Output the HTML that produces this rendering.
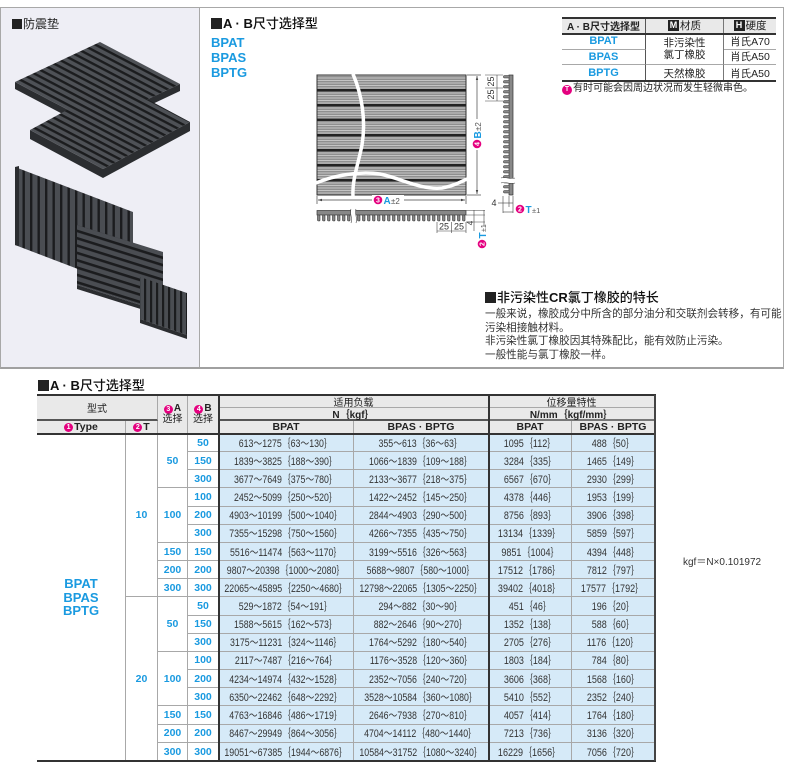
<!DOCTYPE html>
<html><head><meta charset="utf-8">
<style>
*{margin:0;padding:0;box-sizing:border-box}
body{width:790px;height:766px;position:relative;overflow:hidden;background:#fff;font-family:"Liberation Sans","Noto Sans CJK SC",sans-serif;color:#333}
.a{position:absolute;white-space:nowrap}
.sq{display:inline-block;width:11px;height:11px;background:#222;vertical-align:-1px;margin-right:1px}
.bl{color:#1a9ae0;font-weight:bold}
.n{display:inline-block;width:9px;height:9px;border-radius:50%;background:#e4007f;color:#fff;font-size:7px;line-height:9px;text-align:center;font-weight:bold;font-family:"Liberation Sans",sans-serif;vertical-align:0px;margin-right:1px}
.g{display:grid;position:absolute}
.g>div{display:flex;align-items:center;justify-content:center;border-right:1px solid #a8a8a8;border-bottom:1px solid #a8a8a8;white-space:nowrap;text-align:center;overflow:visible}
.h{background:#e9e9e9;font-size:10px;color:#222}
.hb{font-weight:bold;font-size:10.5px}
.w{background:#fff}
.c{background:#d6eaf8}
.d{display:inline-block;transform:scaleX(.8);font-size:11px;color:#333}
.e{display:inline-block;transform:scaleX(.82);font-size:11px;color:#333}
.b{color:#1a9ae0;font-weight:bold;font-size:10.5px;background:#fff}
.b2{color:#1a9ae0;font-weight:bold;font-size:11px;background:#fff}
.line{position:absolute;background:#333}
.mb{display:inline-block;width:11px;height:11px;background:#222;color:#fff;font-size:9px;line-height:11px;text-align:center;font-weight:bold;margin-right:1px;vertical-align:-1px}
</style></head><body>

<!-- top frame -->
<div class="a" style="left:0;top:7px;width:784px;height:362px;border:1px solid #a8a8a8;border-bottom:2px solid #a0a0a0"></div>
<div class="a" style="left:1px;top:8px;width:199px;height:359px;background:#eeeef5;border-right:1px solid #a8a8a8"></div>

<div class="a" style="left:12px;top:17px;font-size:12px;line-height:14px;color:#222"><span class="sq" style="width:10px;height:10px"></span>防震垫</div>

<!-- photo -->
<svg class="a" style="left:0;top:0" width="200" height="368" viewBox="0 0 200 368">
<defs>
<pattern id="r1" width="6" height="6" patternUnits="userSpaceOnUse" patternTransform="rotate(27.7)"><rect width="6" height="6" fill="#4e5156"/><rect width="6" height="2.4" fill="#1b1c1e"/></pattern>
<pattern id="r4" width="7" height="7" patternUnits="userSpaceOnUse" patternTransform="rotate(17.4)"><rect width="7" height="7" fill="#4a4d52"/><rect width="7" height="2.6" fill="#1b1c1e"/></pattern>
<pattern id="rv" width="7.5" height="7.5" patternUnits="userSpaceOnUse"><rect width="7.5" height="7.5" fill="#4a4d52"/><rect width="2.4" height="7.5" fill="#1b1c1e"/></pattern>
<pattern id="rv5" width="6" height="6" patternUnits="userSpaceOnUse"><rect width="6" height="6" fill="#4a4d52"/><rect width="2.2" height="6" fill="#1b1c1e"/></pattern>
</defs>
<polygon points="15,82 95,124 180,84 180,91 95,131 15,89" fill="#2b2d30"/>
<polygon points="15,82 100,42 180,84 95,124" fill="url(#r1)"/>
<polygon points="30,130 103,169 190,122 190,131 103,178 30,139" fill="#2b2d30"/>
<polygon points="30,130 117,83 190,122 103,169" fill="url(#r1)"/>
<polygon points="15,167 133,212 133,290 15,245" fill="url(#rv)"/>
<polygon points="15,167 19,166 19,246 15,245" fill="#2b2d30"/>
<polygon points="77,225 163,252 163,312 77,285" fill="url(#r4)"/>
<polygon points="77,285 163,312 163,316 77,289" fill="#2b2d30"/>
<polygon points="140,277 187,293 187,335 140,319" fill="url(#rv5)"/>
<polygon points="140,319 187,335 187,339 140,323" fill="#2b2d30"/>
</svg>

<!-- heading -->
<div class="a" style="left:211px;top:16px;font-size:13px;line-height:15px;color:#111;font-weight:500"><span class="sq"></span><b>A · B</b>尺寸选择型</div>
<div class="a bl" style="left:211px;top:35px;font-size:13px;line-height:15px">BPAT<br>BPAS<br>BPTG</div>

<!-- drawing -->
<svg class="a" style="left:0;top:0" width="790" height="260" viewBox="0 0 790 260" font-family="Liberation Sans, sans-serif">
<defs>
<pattern id="st" width="6" height="2.5" patternUnits="userSpaceOnUse"><rect width="6" height="2.5" fill="#8f8f8f"/><rect width="6" height="1" fill="#c4c4c4"/></pattern>
<pattern id="tb" x="317" y="215" width="5" height="7" patternUnits="userSpaceOnUse"><rect x="0.5" y="0" width="2.5" height="6" rx="1" fill="#888" stroke="#333" stroke-width=".6"/></pattern>
<pattern id="ts" x="503" y="75" width="7" height="5" patternUnits="userSpaceOnUse"><rect x="0.5" y="0.5" width="6" height="2.5" rx="1" fill="#888" stroke="#333" stroke-width=".6"/></pattern>
</defs>
<rect x="317" y="75" width="149" height="120" fill="url(#st)" stroke="#333" stroke-width="1"/>
<g fill="#222">
<rect x="317" y="89" width="149" height="2.5"/>
<rect x="317" y="104" width="149" height="2.5"/>
<rect x="317" y="118.5" width="149" height="2.5"/>
<rect x="317" y="134" width="149" height="2.5"/>
<rect x="317" y="149" width="149" height="2.5"/>
<rect x="317" y="164" width="149" height="2.5"/>
<rect x="317" y="179" width="149" height="2.5"/>
</g>
<path d="M353,74 C362,95 366,120 362,145 C358,165 352,180 353,196" stroke="#fff" stroke-width="3.5" fill="none"/>
<path d="M316,183 C335,175 360,171 380,174 C400,178 420,190 442,188 C455,186 462,181 467,179" stroke="#fff" stroke-width="3.5" fill="none"/>
<g stroke="#444" stroke-width=".7" fill="none">
<line x1="317" y1="196" x2="317" y2="204"/><line x1="466" y1="196" x2="466" y2="204"/>
<line x1="318" y1="200" x2="465" y2="200"/>
<line x1="467" y1="75" x2="481" y2="75"/><line x1="467" y1="195" x2="481" y2="195"/>
<line x1="477" y1="76" x2="477" y2="194"/>
</g>
<polygon points="318,200 322,198.8 322,201.2" fill="#444"/><polygon points="465,200 461,198.8 461,201.2" fill="#444"/>
<polygon points="477,76 475.8,80 478.2,80" fill="#444"/><polygon points="477,194 475.8,190 478.2,190" fill="#444"/>
<rect x="372" y="195" width="32" height="10" fill="#fff"/>
<circle cx="378" cy="200" r="4.3" fill="#e4007f"/><text x="378" y="202.6" font-size="7" fill="#fff" text-anchor="middle" font-weight="bold">3</text>
<text x="383.5" y="204" font-size="10" fill="#1a9ae0" font-weight="bold">A</text><text x="391" y="204" font-size="8" fill="#555">±2</text>
<g transform="translate(477,135) rotate(-90)">
<rect x="-15" y="-5" width="31" height="10" fill="#fff"/>
<circle cx="-9" cy="0" r="4.3" fill="#e4007f"/><text x="-9" y="2.6" font-size="7" fill="#fff" text-anchor="middle" font-weight="bold">4</text>
<text x="-3.5" y="4" font-size="10" fill="#1a9ae0" font-weight="bold">B</text><text x="4" y="4" font-size="8" fill="#555">±2</text>
</g>
<!-- bottom profile -->
<rect x="317" y="210.5" width="149" height="4.5" fill="#888" stroke="#333" stroke-width=".7"/>
<rect x="317" y="215" width="149" height="7" fill="url(#tb)"/>
<rect x="351" y="209" width="5" height="14" fill="#fff"/>
<path d="M351,209 C349,213 353,218 351,223 M356,209 C354,213 358,218 356,223" stroke="#444" stroke-width=".6" fill="none"/>
<g stroke="#444" stroke-width=".6" fill="none">
<line x1="437" y1="222" x2="437" y2="233"/><line x1="451.5" y1="222" x2="451.5" y2="233"/><line x1="466" y1="222" x2="466" y2="233"/>
<line x1="437" y1="231" x2="466" y2="231"/>
<line x1="466" y1="210.5" x2="485" y2="210.5"/><line x1="466" y1="215" x2="485" y2="215"/><line x1="466" y1="222" x2="485" y2="222"/>
<line x1="474" y1="210" x2="474" y2="231"/><line x1="484" y1="210" x2="484" y2="226"/>
</g>
<text x="444" y="229.5" font-size="9" fill="#333" text-anchor="middle">25</text>
<text x="459" y="229.5" font-size="9" fill="#333" text-anchor="middle">25</text>
<text transform="translate(473,223) rotate(-90)" font-size="8" fill="#333" text-anchor="middle">4</text>
<g transform="translate(482,238) rotate(-90)">
<circle cx="-6" cy="0" r="4.3" fill="#e4007f"/><text x="-6" y="2.6" font-size="7" fill="#fff" text-anchor="middle" font-weight="bold">2</text>
<text x="-0.5" y="4" font-size="10" fill="#1a9ae0" font-weight="bold">T</text><text x="6" y="4" font-size="7" fill="#555">±1</text>
</g>
<!-- side profile -->
<rect x="509" y="75" width="4" height="120" fill="#888" stroke="#333" stroke-width=".7"/>
<rect x="503" y="75" width="6" height="120" fill="url(#ts)"/>
<rect x="501" y="178" width="14" height="5" fill="#fff"/>
<path d="M501,178 C505,176 510,180 515,178 M501,183 C505,181 510,185 515,183" stroke="#444" stroke-width=".6" fill="none"/>
<g stroke="#444" stroke-width=".6" fill="none">
<line x1="485" y1="75" x2="503" y2="75"/><line x1="485" y1="88" x2="503" y2="88"/><line x1="485" y1="101" x2="503" y2="101"/>
<line x1="497" y1="75" x2="497" y2="101"/>
<line x1="503" y1="196" x2="503" y2="213"/><line x1="509" y1="196" x2="509" y2="207"/><line x1="513" y1="196" x2="513" y2="213"/>
<line x1="498" y1="203" x2="513" y2="203"/>
<line x1="503" y1="212" x2="513" y2="212"/>
</g>
<text transform="translate(494,81.5) rotate(-90)" font-size="9" fill="#333" text-anchor="middle">25</text>
<text transform="translate(494,94.5) rotate(-90)" font-size="9" fill="#333" text-anchor="middle">25</text>
<text x="494" y="206" font-size="9" fill="#333" text-anchor="middle">4</text>
<circle cx="520" cy="209" r="4.3" fill="#e4007f"/><text x="520" y="211.6" font-size="7" fill="#fff" text-anchor="middle" font-weight="bold">2</text>
<text x="525.5" y="213" font-size="10" fill="#1a9ae0" font-weight="bold">T</text><text x="532" y="213" font-size="7.5" fill="#555">±1</text>
</svg>

<!-- top right table -->
<div class="g" style="left:562px;top:18px;width:214px;height:63px;grid-template-columns:84px 78px 52px;grid-template-rows:16px 15.67px 15.67px 15.66px;font-size:10.5px">
<div class="h" style="grid-area:1/1/2/2;border-right:1px solid #555;font-weight:bold">A · B尺寸选择型</div>
<div class="h" style="grid-area:1/2/2/3;border-right:1px solid #777;font-size:10.5px"><span class="mb">M</span>材质</div>
<div class="h" style="grid-area:1/3/2/4;border-right:none;font-size:10.5px"><span class="mb">H</span>硬度</div>
<div class="b2" style="grid-area:2/1/3/2;border-right:1px solid #555">BPAT</div>
<div style="grid-area:2/2/4/3;border-right:1px solid #777;line-height:12px;white-space:normal;color:#222">非污染性<br>氯丁橡胶</div>
<div style="grid-area:2/3/3/4;border-right:none;color:#222">肖氏A70</div>
<div class="b2" style="grid-area:3/1/4/2;border-right:1px solid #555">BPAS</div>
<div style="grid-area:3/3/4/4;border-right:none;color:#222">肖氏A50</div>
<div class="b2" style="grid-area:4/1/5/2;border-right:1px solid #555;border-bottom:none">BPTG</div>
<div style="grid-area:4/2/5/3;border-right:1px solid #777;border-bottom:none;color:#222">天然橡胶</div>
<div style="grid-area:4/3/5/4;border-right:none;border-bottom:none;color:#222">肖氏A50</div>
</div>
<div class="line" style="left:562px;top:17px;width:214px;height:2px"></div>
<div class="line" style="left:562px;top:33px;width:214px;height:1.5px"></div>
<div class="line" style="left:562px;top:80px;width:214px;height:2px"></div>
<div class="a" style="left:562px;top:83px;font-size:10px;line-height:12px;color:#222"><span class="n" style="width:10px;height:10px;line-height:10px">T</span>有时可能会因周边状况而发生轻微串色。</div>

<!-- CR section -->
<div class="a" style="left:485px;top:289.5px;font-size:13px;line-height:15px;color:#111;font-weight:500"><span class="sq"></span>非污染性<b>CR</b>氯丁橡胶的特长</div>
<div class="a" style="left:485px;top:307.5px;font-size:10.6px;line-height:13px;color:#333">一般来说，橡胶成分中所含的部分油分和交联剂会转移，有可能</div>
<div class="a" style="left:485px;top:321.5px;font-size:10.6px;line-height:13px;color:#333">污染相接触材料。</div>
<div class="a" style="left:485px;top:334.5px;font-size:10.6px;line-height:13px;color:#333">非污染性氯丁橡胶因其特殊配比，能有效防止污染。</div>
<div class="a" style="left:485px;top:348.5px;font-size:10.6px;line-height:13px;color:#333">一般性能与氯丁橡胶一样。</div>

<!-- bottom section -->
<div class="a" style="left:38px;top:377.5px;font-size:13px;line-height:15px;color:#111;font-weight:500"><span class="sq"></span><b>A · B</b>尺寸选择型</div>

<div class="g" style="left:37px;top:395px;width:618px;height:366px;grid-template-columns:89px 32px 30px 31px 135px 135px 83px 83px;grid-template-rows:13px 13px 13px repeat(18,18.1667px)">
<div class="h" style="grid-area:1/1/3/3;border-bottom:2px solid #555">型式</div>
<div class="h" style="grid-area:1/3/4/4;flex-direction:column;line-height:11px"><span><span class="n">3</span><b>A</b></span><span>选择</span></div>
<div class="h" style="grid-area:1/4/4/5;flex-direction:column;line-height:11px"><span><span class="n">4</span><b>B</b></span><span>选择</span></div>
<div class="h" style="grid-area:1/5/2/7">适用负载</div>
<div class="h" style="grid-area:1/7/2/9">位移量特性</div>
<div class="h" style="grid-area:2/5/3/7;border-bottom:2px solid #555;font-weight:bold">N｛kgf｝</div>
<div class="h" style="grid-area:2/7/3/9;border-bottom:2px solid #777;font-weight:bold">N/mm｛kgf/mm｝</div>
<div class="h hb" style="grid-area:3/1/4/2"><span class="n">1</span>Type</div>
<div class="h hb" style="grid-area:3/2/4/3"><span class="n">2</span>T</div>
<div class="h hb" style="grid-area:3/5/4/6">BPAT</div>
<div class="h hb" style="grid-area:3/6/4/7">BPAS · BPTG</div>
<div class="h hb" style="grid-area:3/7/4/8">BPAT</div>
<div class="h hb" style="grid-area:3/8/4/9">BPAS · BPTG</div>

<div class="w" style="grid-area:4/1/22/2;border-bottom:none;flex-direction:column;line-height:13.5px;color:#1a9ae0;font-weight:bold;font-size:13px"><span>BPAT</span><span>BPAS</span><span>BPTG</span></div>
<div class="b" style="grid-area:4/2/13/3">10</div>
<div class="b" style="grid-area:13/2/22/3;border-bottom:none">20</div>
<div class="b" style="grid-area:4/3/7/4">50</div>
<div class="b" style="grid-area:7/3/10/4">100</div>
<div class="b" style="grid-area:10/3/11/4">150</div>
<div class="b" style="grid-area:11/3/12/4">200</div>
<div class="b" style="grid-area:12/3/13/4">300</div>
<div class="b" style="grid-area:13/3/16/4">50</div>
<div class="b" style="grid-area:16/3/19/4">100</div>
<div class="b" style="grid-area:19/3/20/4">150</div>
<div class="b" style="grid-area:20/3/21/4">200</div>
<div class="b" style="grid-area:21/3/22/4;border-bottom:none">300</div>

<div class="b">50</div><div class="c"><span class="d">613～1275｛63～130｝</span></div><div class="c"><span class="d">355～613｛36～63｝</span></div><div class="c"><span class="e">1095｛112｝</span></div><div class="c"><span class="e">488｛50｝</span></div>
<div class="b">150</div><div class="c"><span class="d">1839～3825｛188～390｝</span></div><div class="c"><span class="d">1066～1839｛109～188｝</span></div><div class="c"><span class="e">3284｛335｝</span></div><div class="c"><span class="e">1465｛149｝</span></div>
<div class="b">300</div><div class="c"><span class="d">3677～7649｛375～780｝</span></div><div class="c"><span class="d">2133～3677｛218～375｝</span></div><div class="c"><span class="e">6567｛670｝</span></div><div class="c"><span class="e">2930｛299｝</span></div>
<div class="b">100</div><div class="c"><span class="d">2452～5099｛250～520｝</span></div><div class="c"><span class="d">1422～2452｛145～250｝</span></div><div class="c"><span class="e">4378｛446｝</span></div><div class="c"><span class="e">1953｛199｝</span></div>
<div class="b">200</div><div class="c"><span class="d">4903～10199｛500～1040｝</span></div><div class="c"><span class="d">2844～4903｛290～500｝</span></div><div class="c"><span class="e">8756｛893｝</span></div><div class="c"><span class="e">3906｛398｝</span></div>
<div class="b">300</div><div class="c"><span class="d">7355～15298｛750～1560｝</span></div><div class="c"><span class="d">4266～7355｛435～750｝</span></div><div class="c"><span class="e">13134｛1339｝</span></div><div class="c"><span class="e">5859｛597｝</span></div>
<div class="b">150</div><div class="c"><span class="d">5516～11474｛563～1170｝</span></div><div class="c"><span class="d">3199～5516｛326～563｝</span></div><div class="c"><span class="e">9851｛1004｝</span></div><div class="c"><span class="e">4394｛448｝</span></div>
<div class="b">200</div><div class="c"><span class="d">9807～20398｛1000～2080｝</span></div><div class="c"><span class="d">5688～9807｛580～1000｝</span></div><div class="c"><span class="e">17512｛1786｝</span></div><div class="c"><span class="e">7812｛797｝</span></div>
<div class="b">300</div><div class="c"><span class="d">22065～45895｛2250～4680｝</span></div><div class="c"><span class="d">12798～22065｛1305～2250｝</span></div><div class="c"><span class="e">39402｛4018｝</span></div><div class="c"><span class="e">17577｛1792｝</span></div>
<div class="b">50</div><div class="c"><span class="d">529～1872｛54～191｝</span></div><div class="c"><span class="d">294～882｛30～90｝</span></div><div class="c"><span class="e">451｛46｝</span></div><div class="c"><span class="e">196｛20｝</span></div>
<div class="b">150</div><div class="c"><span class="d">1588～5615｛162～573｝</span></div><div class="c"><span class="d">882～2646｛90～270｝</span></div><div class="c"><span class="e">1352｛138｝</span></div><div class="c"><span class="e">588｛60｝</span></div>
<div class="b">300</div><div class="c"><span class="d">3175～11231｛324～1146｝</span></div><div class="c"><span class="d">1764～5292｛180～540｝</span></div><div class="c"><span class="e">2705｛276｝</span></div><div class="c"><span class="e">1176｛120｝</span></div>
<div class="b">100</div><div class="c"><span class="d">2117～7487｛216～764｝</span></div><div class="c"><span class="d">1176～3528｛120～360｝</span></div><div class="c"><span class="e">1803｛184｝</span></div><div class="c"><span class="e">784｛80｝</span></div>
<div class="b">200</div><div class="c"><span class="d">4234～14974｛432～1528｝</span></div><div class="c"><span class="d">2352～7056｛240～720｝</span></div><div class="c"><span class="e">3606｛368｝</span></div><div class="c"><span class="e">1568｛160｝</span></div>
<div class="b">300</div><div class="c"><span class="d">6350～22462｛648～2292｝</span></div><div class="c"><span class="d">3528～10584｛360～1080｝</span></div><div class="c"><span class="e">5410｛552｝</span></div><div class="c"><span class="e">2352｛240｝</span></div>
<div class="b">150</div><div class="c"><span class="d">4763～16846｛486～1719｝</span></div><div class="c"><span class="d">2646～7938｛270～810｝</span></div><div class="c"><span class="e">4057｛414｝</span></div><div class="c"><span class="e">1764｛180｝</span></div>
<div class="b">200</div><div class="c"><span class="d">8467～29949｛864～3056｝</span></div><div class="c"><span class="d">4704～14112｛480～1440｝</span></div><div class="c"><span class="e">7213｛736｝</span></div><div class="c"><span class="e">3136｛320｝</span></div>
<div class="b" style="border-bottom:none">300</div><div class="c" style="border-bottom:none"><span class="d">19051～67385｛1944～6876｝</span></div><div class="c" style="border-bottom:none"><span class="d">10584～31752｛1080～3240｝</span></div><div class="c" style="border-bottom:none"><span class="e">16229｛1656｝</span></div><div class="c" style="border-bottom:none;border-right:none"><span class="e">7056｛720｝</span></div>
</div>
<!-- table heavy lines -->
<div class="line" style="left:37px;top:394px;width:619px;height:2px"></div>
<div class="line" style="left:37px;top:433px;width:619px;height:2px"></div>
<div class="line" style="left:37px;top:760px;width:619px;height:2px"></div>
<div class="line" style="left:218px;top:395px;width:2px;height:366px"></div>
<div class="line" style="left:488px;top:395px;width:2px;height:366px"></div>
<div class="line" style="left:654px;top:395px;width:1.5px;height:366px;background:#444"></div>

<div class="a" style="left:683px;top:557px;font-size:10px;line-height:12px;color:#333">kgf＝N×0.101972</div>
</body></html>
